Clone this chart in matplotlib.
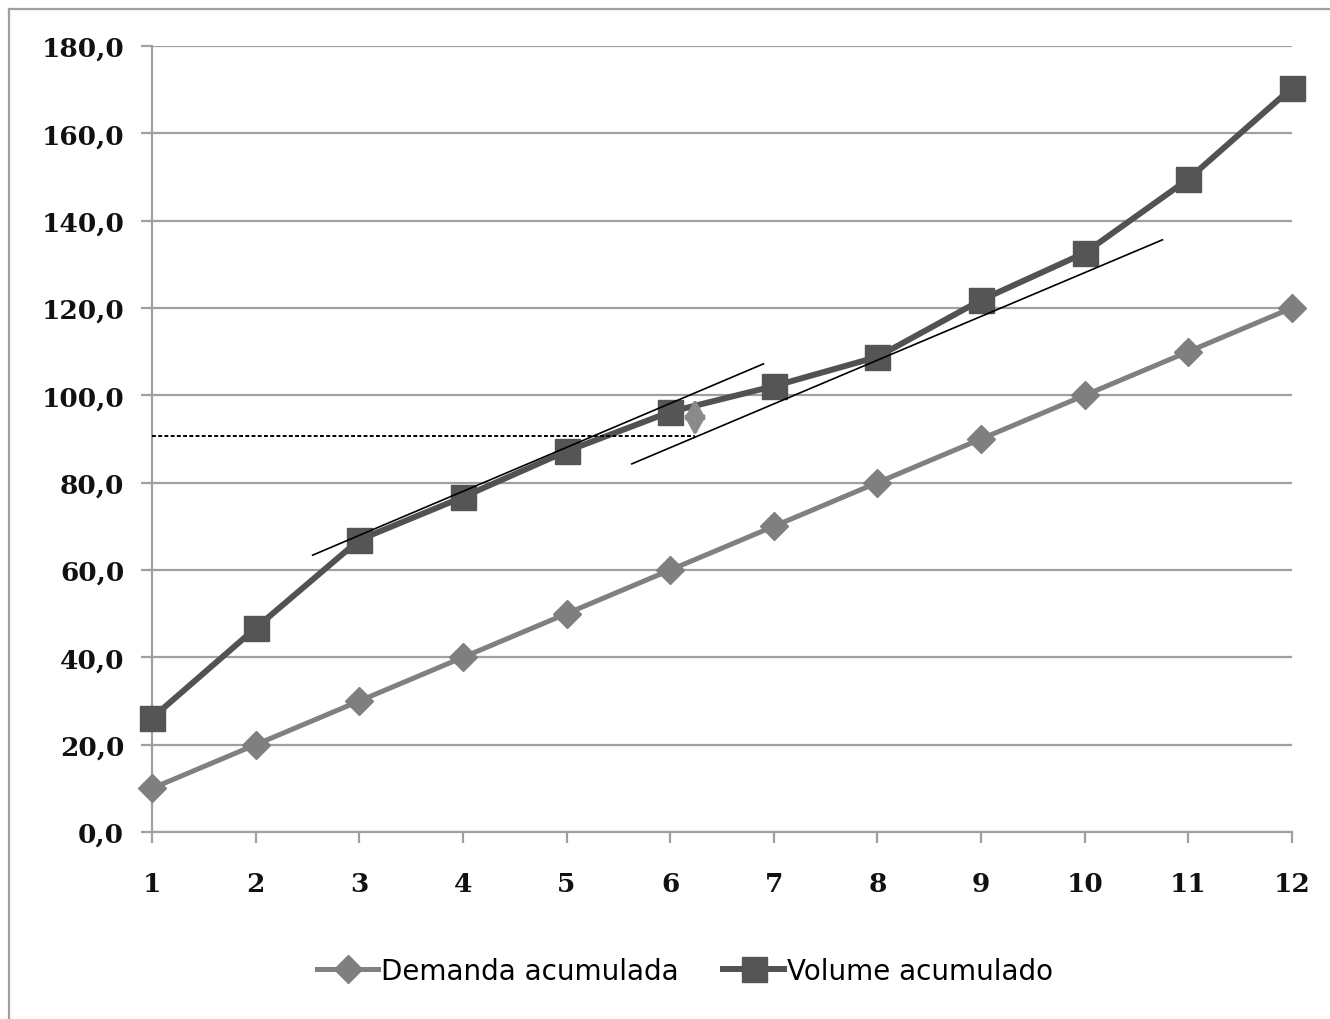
import matplotlib.pyplot as plt
from matplotlib.lines import Line2D
from matplotlib import font_manager

# dados
meses = list(range(1, 13))
demanda_acumulada = [10, 20, 30, 40, 50, 60, 70, 80, 90, 100, 110, 120]
volume_acumulado = [26.1, 46.7, 66.9, 76.7, 87.2, 96.2, 102.1, 108.8, 121.8, 132.6, 149.5, 170.4]
y_ticks = [0, 20, 40, 60, 80, 100, 120, 140, 160, 180]
y_labels = ['0,0', '20,0', '40,0', '60,0', '80,0', '100,0', '120,0', '140,0', '160,0', '180,0']

# retas auxiliares (tangentes) e nível de estoque
reta1_x = [2.55, 6.90]
reta1_y = [63.4, 107.2]
reta2_x = [5.63, 10.75]
reta2_y = [84.3, 135.6]
nivel_x = [1, 6.24]
nivel_y = [90.7, 90.7]
seta_x = 6.24
seta_y = [90.7, 99.2]

nomes = [f.name for f in font_manager.fontManager.ttflist]
fonte_legenda = 'Liberation Sans Narrow' if 'Liberation Sans Narrow' in nomes else 'DejaVu Sans'

fig = plt.figure(figsize=(13.3, 10.2), dpi=100)
ax = fig.add_axes([0.1143, 0.1833, 0.8571, 0.7707])

ax.grid(axis='y', color='#a0a0a0', linewidth=1.6)
ax.set_axisbelow(True)

ax.plot(meses, demanda_acumulada, color='#808080', linewidth=3.6, marker='D',
        markersize=14, markerfacecolor='#7f7f7f', markeredgecolor='#7f7f7f',
        label='Demanda acumulada', clip_on=False, zorder=3)
ax.plot(meses, volume_acumulado, color='#525252', linewidth=4.3, marker='s',
        markersize=18, markerfacecolor='#555555', markeredgecolor='#555555',
        label='Volume acumulado', clip_on=False, zorder=4)

ax.plot(reta1_x, reta1_y, color='black', linewidth=1.2, zorder=5)
ax.plot(reta2_x, reta2_y, color='black', linewidth=1.2, zorder=5)
ax.plot(nivel_x, nivel_y, color='black', linewidth=1.4, linestyle=(0, (2, 1.2)), zorder=5)
ax.annotate('', xy=(seta_x, seta_y[0]), xytext=(seta_x, seta_y[1]),
            arrowprops=dict(arrowstyle='<|-|>,head_length=0.55,head_width=0.3',
                            mutation_scale=20, color='#8a8a8a', linewidth=3,
                            shrinkA=0, shrinkB=0),
            zorder=6)

ax.set_xlim(1, 12)
ax.set_ylim(0, 180)
ax.set_xticks(meses)
ax.set_yticks(y_ticks)
ax.set_yticklabels(y_labels)

for s in ['top', 'right']:
    ax.spines[s].set_visible(False)
for s in ['left', 'bottom']:
    ax.spines[s].set_color('#a0a0a0')
    ax.spines[s].set_linewidth(1.6)

ax.tick_params(axis='both', color='#a0a0a0', width=1.6, length=8,
               labelsize=19, labelcolor='#111111')
ax.tick_params(axis='x', pad=20)
ax.tick_params(axis='y', pad=12)
for lab in ax.get_xticklabels() + ax.get_yticklabels():
    lab.set_fontfamily('DejaVu Serif')
    lab.set_fontweight('bold')

leg = fig.legend(loc='center', bbox_to_anchor=(0.515, 0.047), ncol=2, frameon=False,
                 prop={'family': fonte_legenda, 'size': 20}, handlelength=2.2,
                 handletextpad=0.1, columnspacing=1.6)

# moldura do gráfico (só topo e lado esquerdo visíveis)
fig.add_artist(Line2D([0.0068, 1], [0.990, 0.990], transform=fig.transFigure,
                      color='#a0a0a0', linewidth=1.6))
fig.add_artist(Line2D([0.0068, 0.0068], [0, 0.990], transform=fig.transFigure,
                      color='#a0a0a0', linewidth=1.6))

fig.savefig('out.png', dpi=100)
